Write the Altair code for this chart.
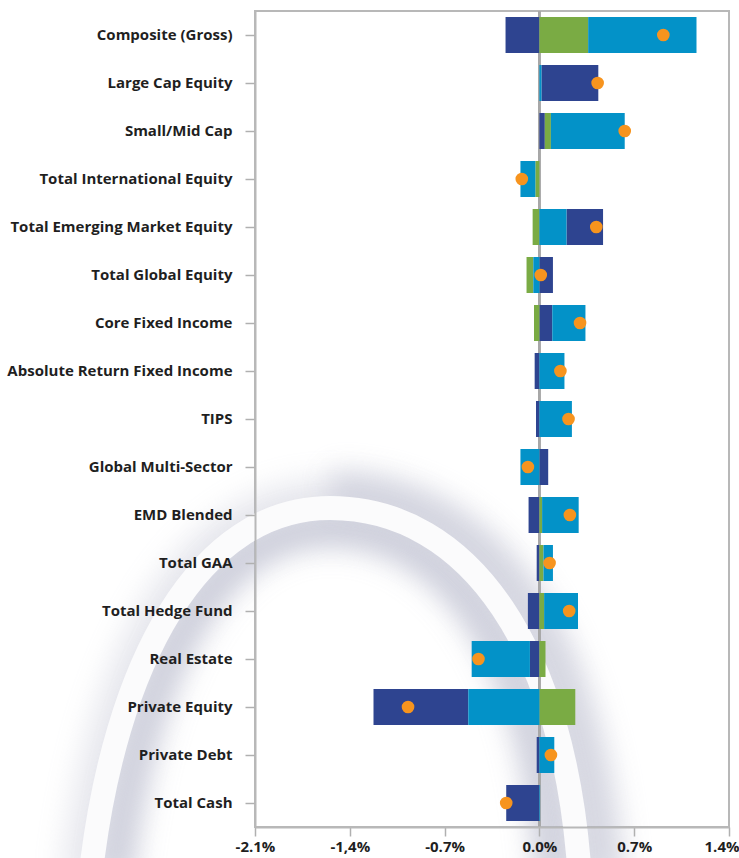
import altair as alt
import pandas as pd
import json
import base64

categories = [
    "Composite (Gross)", "Large Cap Equity", "Small/Mid Cap",
    "Total International Equity", "Total Emerging Market Equity",
    "Total Global Equity", "Core Fixed Income", "Absolute Return Fixed Income",
    "TIPS", "Global Multi-Sector", "EMD Blended", "Total GAA",
    "Total Hedge Fund", "Real Estate", "Private Equity", "Private Debt",
    "Total Cash",
]
# attribution components (% points)
navy_effect = [-0.25, 0.42, 0.04, 0.0, 0.27, 0.10, 0.095, -0.035, -0.025, 0.065,
               -0.08, -0.02, -0.085, -0.07, -0.70, -0.02, -0.245]
green_effect = [0.36, 0.0, 0.045, -0.03, -0.05, -0.05, -0.04, 0.0, 0.0, 0.0,
                0.02, 0.03, 0.035, 0.045, 0.265, 0.0, 0.0]
blue_effect = [0.80, 0.015, 0.545, -0.11, 0.20, -0.045, 0.245, 0.185, 0.24, -0.14,
               0.27, 0.07, 0.25, -0.43, -0.525, 0.11, 0.005]
total_effect = [0.915, 0.43, 0.63, -0.13, 0.42, 0.01, 0.30, 0.155, 0.215, -0.085,
                0.225, 0.075, 0.22, -0.45, -0.97, 0.085, -0.245]

series_names = ["Effect A", "Effect B", "Effect C"]
series_colors = ["#2E4490", "#7AAB44", "#0392C8"]
dot_color = "#F7941E"

tick_values = [-2.1, -1.4, -0.7, 0.0, 0.7, 1.4]
tick_labels = ["-2.1%", "-1,4%", "-0.7%", "0.0%", "0.7%", "1.4%"]

FONT = "Open Sans"
TEXT = "#1f1f1f"
FRAME = "#b8b8b8"

rows = []
for i, c in enumerate(categories):
    for name, vals in zip(series_names, [navy_effect, green_effect, blue_effect]):
        rows.append({"category": c, "series": name, "value": vals[i]})
bars_df = pd.DataFrame(rows)
dots_df = pd.DataFrame({"category": categories, "total": total_effect})

# decorative background swoosh (page-sized SVG image)
arch = "M 90 880 C 114 660, 200 508, 330 508 C 470 508, 566 650, 580 880"
arch_in = "M 116 880 C 140 672, 214 530, 330 530 C 452 530, 540 662, 552 880"
arch_out_r = "M 330 490 C 490 490, 590 640, 606 880"
swoosh_svg = f"""<svg xmlns='http://www.w3.org/2000/svg' width='739' height='858' viewBox='0 0 739 858'>
<defs><filter id='b' x='-50%' y='-50%' width='200%' height='200%'><feGaussianBlur stdDeviation='14'/></filter></defs>
<path d='{arch}' fill='none' stroke='#b6b8ca' stroke-width='60' filter='url(#b)' opacity='0.3'/>
<path d='{arch_in}' fill='none' stroke='#b6b8ca' stroke-width='34' filter='url(#b)' opacity='0.6'/>
<path d='{arch_out_r}' fill='none' stroke='#b6b8ca' stroke-width='40' filter='url(#b)' opacity='0.45'/>
<path d='{arch}' fill='none' stroke='#fbfbfc' stroke-width='24'/>
</svg>"""
swoosh_url = "data:image/svg+xml;base64," + base64.b64encode(swoosh_svg.encode()).decode()
bg_df = pd.DataFrame({"img": [swoosh_url]})

label_expr = "{}[indexof({}, datum.value)]".format(json.dumps(tick_labels), json.dumps(tick_values))

y_enc = alt.Y(
    "category:N", sort=categories, title=None,
    scale=alt.Scale(paddingInner=0.25, paddingOuter=0.125),
    axis=alt.Axis(labelFont=FONT, labelFontSize=15, labelFontWeight="bold",
                  labelColor=TEXT, tickSize=10, tickColor="#b0b0b0",
                  tickWidth=1.5, labelPadding=13, domain=True, domainColor=FRAME,
                  domainWidth=2, labelLimit=300, zindex=1),
)
x_scale = alt.Scale(domain=[-2.1, 1.4], nice=False, zero=False)
x_axis = alt.Axis(values=tick_values, labelExpr=label_expr, title=None, grid=False,
                  labelFont=FONT, labelFontSize=15, labelFontWeight="bold",
                  labelColor=TEXT, tickSize=9, tickColor="#b0b0b0", tickWidth=1.5,
                  labelPadding=3, domain=True, domainColor=FRAME, domainWidth=2,
                  zindex=1,
                  labelAlign={"condition": {"test": "datum.value > 1.3", "value": "right"},
                              "value": "center"},
                  labelOffset={"condition": {"test": "datum.value > 1.3", "value": 10},
                               "value": 0})

background = alt.Chart(bg_df).mark_image(
    width=739, height=858, align="left", baseline="top", aspect=False
).encode(url="img:N", x=alt.value(-255), y=alt.value(-11))

zero_rule = alt.Chart(dots_df).mark_rule(color="#a8a8a8", strokeWidth=1.5).encode(
    x=alt.datum(0, scale=x_scale, axis=x_axis)
)

bars = alt.Chart(bars_df).transform_calculate(
    absv="abs(datum.value)"
).mark_bar(strokeWidth=0).encode(
    y=y_enc,
    x=alt.X("value:Q", stack="zero", scale=x_scale, axis=x_axis),
    color=alt.Color("series:N", scale=alt.Scale(domain=series_names, range=series_colors),
                    legend=None),
    order=alt.Order("absv:Q", sort="ascending"),
)

dots = alt.Chart(dots_df).mark_circle(size=160, opacity=1, color=dot_color).encode(
    y=alt.Y("category:N", sort=categories),
    x=alt.X("total:Q", scale=x_scale),
)

chart = alt.layer(background, zero_rule, bars, dots).properties(
    width=474, height=816,
    autosize=alt.AutoSizeParams(type="none"),
    padding={"left": 255, "top": 11, "right": 10, "bottom": 31},
    background="white",
).configure_view(stroke=FRAME, strokeWidth=2)

chart.save("out.html", embed_options={"renderer": "svg", "actions": False})
